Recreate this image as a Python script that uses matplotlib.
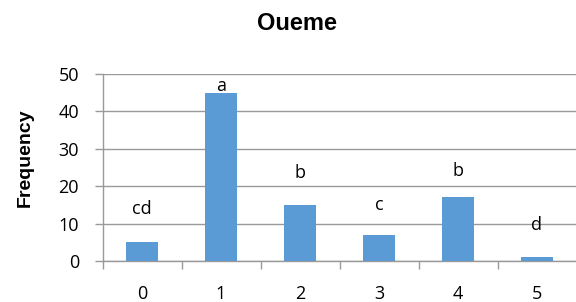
import numpy as np
import matplotlib
matplotlib.use('Agg')
import matplotlib.pyplot as plt

# data
categories = ['0', '1', '2', '3', '4', '5']
frequency = [5, 45, 15, 7, 17, 1]
letters = ['cd', 'a', 'b', 'c', 'b', 'd']
letter_y = [14, 46.7, 23.5, 15, 24, 9.5]

plt.rcParams['font.family'] = ['Open Sans', 'DejaVu Sans']

fig = plt.figure(figsize=(5.76, 3.02), dpi=100)
ax = fig.add_axes([102.5 / 576, 41 / 302, 474 / 576, 187 / 302])

x = np.arange(len(categories))
ax.bar(x, frequency, width=0.4, color='#5B9BD5', zorder=3)

for xi, lab, ly in zip(x, letters, letter_y):
    ax.text(xi, ly, lab, ha='center', va='center', fontsize=13, color='black', zorder=4)

ax.set_xlim(-0.5, len(categories) - 0.5)
ax.set_ylim(0, 50)
ax.set_yticks(np.arange(0, 51, 10))
ax.set_xticks(x)
ax.set_xticklabels(categories)
# tick marks sit between categories
ax.set_xticks(np.arange(-0.5, len(categories)), minor=True)
ax.tick_params(axis='x', which='major', length=0, pad=17, labelsize=13)
ax.tick_params(axis='x', which='minor', length=6, color='#999999', width=1)
ax.tick_params(axis='y', length=6, color='#999999', width=1, labelsize=13, pad=11)

ax.grid(axis='y', color='#999999', linewidth=1, zorder=0)
for s in ['top', 'right']:
    ax.spines[s].set_visible(False)
for s in ['left', 'bottom']:
    ax.spines[s].set_color('#999999')
    ax.spines[s].set_linewidth(1)

ax.set_ylabel('Frequency', fontsize=14, fontweight='bold',
              family=['Liberation Sans', 'DejaVu Sans'])
ax.yaxis.set_label_coords(-0.146, 0.55)
fig.text(297.5 / 576, 1 - 23 / 302, 'Oueme', ha='center', va='center', fontsize=17,
         fontweight='bold', family=['Liberation Sans', 'DejaVu Sans'])

plt.savefig('out.png', dpi=100)
